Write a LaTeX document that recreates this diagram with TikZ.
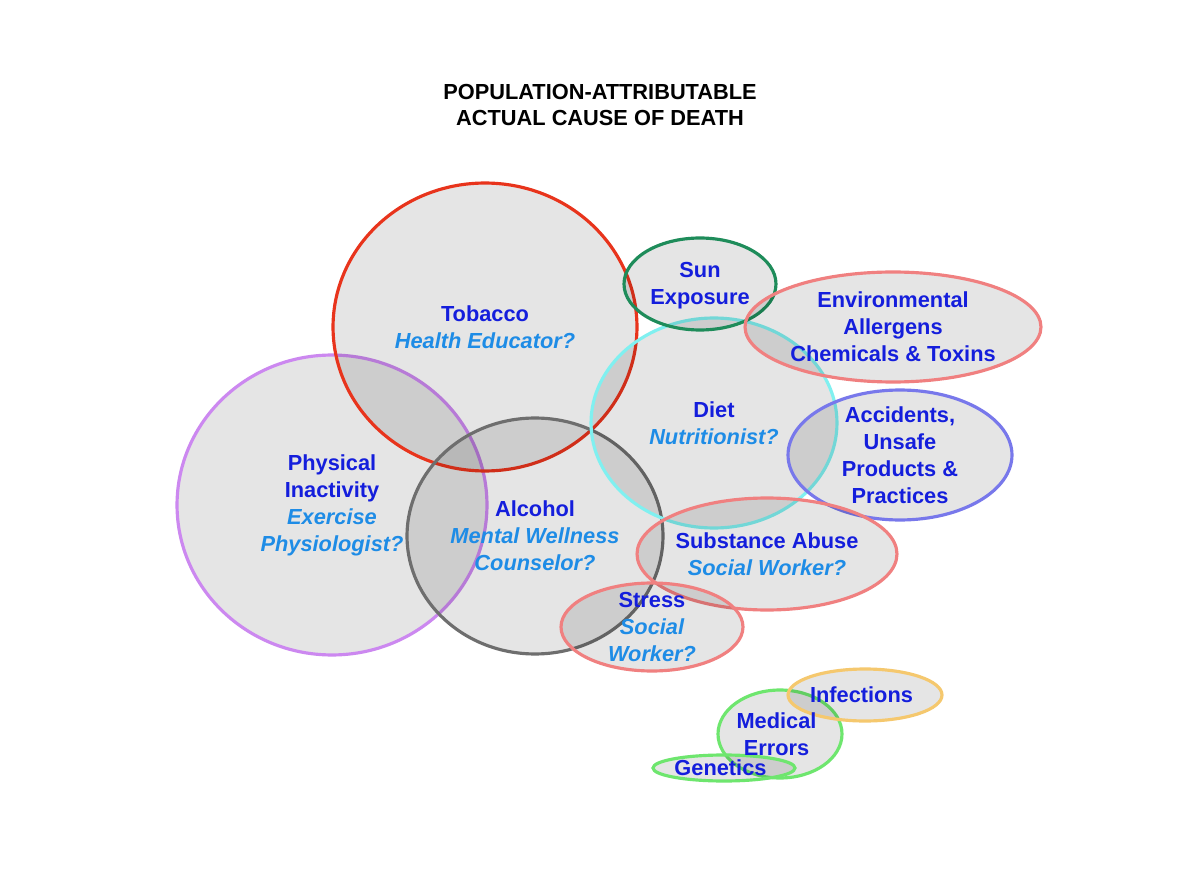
\documentclass[tikz,border=0pt]{standalone}
\usepackage{fontspec}
\setmainfont{Liberation Sans}
\usetikzlibrary{shapes.geometric}
\definecolor{tobred}{RGB}{232,52,28}
\definecolor{physviolet}{RGB}{204,136,240}
\definecolor{alcgray}{RGB}{110,110,110}
\definecolor{dietcyan}{RGB}{128,240,240}
\definecolor{sungreen}{RGB}{30,140,90}
\definecolor{salmon}{RGB}{240,128,128}
\definecolor{accblue}{RGB}{120,120,235}
\definecolor{infyellow}{RGB}{245,200,110}
\definecolor{lightgreen}{RGB}{110,230,110}
\definecolor{causeblue}{RGB}{20,30,220}
\definecolor{roleblue}{RGB}{30,140,230}
\newcommand{\role}[1]{{\color{roleblue}\itshape #1}}
\begin{document}
\begin{tikzpicture}[x=0.02cm,y=-0.02cm,
  every node/.style={font=\fontsize{12.4}{15.4}\selectfont\bfseries},
  blob/.style={ellipse,draw,line width=1.8pt,fill=black,fill opacity=0.1,inner sep=0pt},
  cause/.style={text=causeblue,align=center,inner sep=1pt}]
\useasboundingbox[fill=white] (0,0) rectangle (1200,878);
% Title
\node[align=center,font=\fontsize{12.4}{14.8}\selectfont\bfseries] (title) at (600,105) {POPULATION-ATTRIBUTABLE\\ACTUAL CAUSE OF DEATH};
% Big circles
\node[blob,draw=physviolet,minimum width=6.2cm,minimum height=6.0cm] (phys) at (332,505) {};
\node[blob,draw=tobred,minimum width=6.08cm,minimum height=5.76cm] (tob) at (485,327) {};
\node[blob,draw=alcgray,minimum width=5.12cm,minimum height=4.72cm] (alc) at (535,536) {};
\node[blob,draw=dietcyan,minimum width=4.92cm,minimum height=4.2cm] (diet) at (714,423) {};
% Smaller ellipses
\node[blob,draw=sungreen,minimum width=3.04cm,minimum height=1.84cm] (sun) at (700,284) {};
\node[blob,draw=salmon,minimum width=5.92cm,minimum height=2.2cm] (env) at (893,327) {};
\node[blob,draw=accblue,minimum width=4.48cm,minimum height=2.6cm] (acc) at (900,455) {};
\node[blob,draw=salmon,minimum width=5.2cm,minimum height=2.24cm] (subst) at (767,554) {};
\node[blob,draw=salmon,minimum width=3.64cm,minimum height=1.76cm] (stress) at (652,627) {};
\node[blob,draw=lightgreen,minimum width=2.48cm,minimum height=1.76cm] (medic) at (780,734) {};
\node[blob,draw=infyellow,minimum width=3.08cm,minimum height=1.04cm] (infect) at (865,695) {};
\node[blob,draw=lightgreen,minimum width=2.84cm,minimum height=0.52cm] (genet) at (724,768) {};
% Labels
\node[cause] (tobtxt) at (tob.center) {Tobacco\\\role{Health Educator?}};
\node[cause] (phystxt) at (phys.center) {Physical\\Inactivity\\\role{Exercise}\\\role{Physiologist?}};
\node[cause] (alctxt) at (alc.center) {Alcohol\\\role{Mental Wellness}\\\role{Counselor?}};
\node[cause] (diettxt) at (diet.center) {Diet\\\role{Nutritionist?}};
\node[cause] (suntxt) at ([yshift=-1pt]sun.center) {Sun\\Exposure};
\node[cause] (envtxt) at (env.center) {Environmental\\Allergens\\Chemicals \& Toxins};
\node[cause] (acctxt) at (acc.center) {Accidents,\\Unsafe\\Products \&\\Practices};
\node[cause] (substtxt) at (subst.center) {Substance Abuse\\\role{Social Worker?}};
\node[cause] (stresstxt) at (stress.center) {Stress\\\role{Social}\\\role{Worker?}};
\node[cause] (infecttxt) at ([xshift=-2pt]infect.center) {Infections};
\node[cause] (medictxt) at ([xshift=-2pt]medic.center) {Medical\\Errors};
\node[cause] (genettxt) at ([xshift=-2pt]genet.center) {Genetics};
\end{tikzpicture}
\end{document}
